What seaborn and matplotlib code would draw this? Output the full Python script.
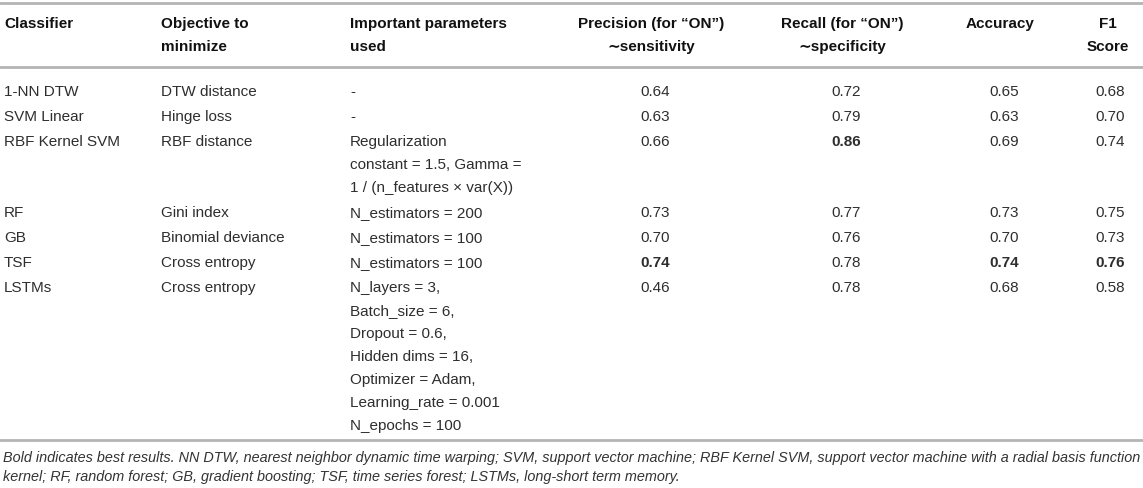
import numpy as np
import seaborn as sns
import matplotlib.pyplot as plt

sns.set_theme(style="white")
plt.rcParams["font.family"] = ["Liberation Sans", "DejaVu Sans"]

# table contents
headers = ["Classifier", "Objective to\nminimize", "Important parameters\nused",
           "Precision (for \u201cON\u201d)\n\u223csensitivity",
           "Recall (for \u201cON\u201d)\n\u223cspecificity", "Accuracy", "F1\nScore"]
classifiers = ["1-NN DTW", "SVM Linear", "RBF Kernel SVM", "RF", "GB", "TSF", "LSTMs"]
objectives = ["DTW distance", "Hinge loss", "RBF distance", "Gini index",
              "Binomial deviance", "Cross entropy", "Cross entropy"]
params = ["-", "-",
          "Regularization\nconstant = 1.5, Gamma =\n1 / (n_features \u00d7 var(X))",
          "N_estimators = 200", "N_estimators = 100", "N_estimators = 100",
          "N_layers = 3,\nBatch_size = 6,\nDropout = 0.6,\nHidden dims = 16,\n"
          "Optimizer = Adam,\nLearning_rate = 0.001\nN_epochs = 100"]
precision = [0.64, 0.63, 0.66, 0.73, 0.70, 0.74, 0.46]
recall = [0.72, 0.79, 0.86, 0.77, 0.76, 0.78, 0.78]
accuracy = [0.65, 0.63, 0.69, 0.73, 0.70, 0.74, 0.68]
f1 = [0.68, 0.70, 0.74, 0.75, 0.73, 0.76, 0.58]
footnote = ("Bold indicates best results. NN DTW, nearest neighbor dynamic time warping; SVM, "
            "support vector machine; RBF Kernel SVM, support vector machine with a radial basis function\n"
            "kernel; RF, random forest; GB, gradient boosting; TSF, time series forest; LSTMs, long-short term memory.")

# layout (pixels)
W, H = 1143, 488
text_cols = [4, 161, 350]
head_cols = [651, 842, 1000, 1108]
num_cols = [655, 846, 1004, 1110]
line_h = 23
row_gap = 2
fs = 11
rule_color = "#b4b4b4"
txt_color = "#2e2e2e"

fig = plt.figure(figsize=(W / 100, H / 100), dpi=100)
ax = fig.add_axes([0, 0, 1, 1])
ax.set_xlim(0, W)
ax.set_ylim(H, 0)
ax.axis("off")

# header
for i, h in enumerate(headers):
    if i < 3:
        x, ha = text_cols[i], "left"
    else:
        x, ha = head_cols[i - 3], "center"
    for k, line in enumerate(h.split("\n")):
        ax.text(x, 24 + k * 23, line, ha=ha, va="center", fontsize=fs,
                fontweight="bold", color="#111111")

ax.axhline(3, color=rule_color, lw=2)
ax.axhline(67, color=rule_color, lw=2)

metrics = [precision, recall, accuracy, f1]
best = [int(np.argmax(m)) for m in metrics]

y = 92
for r in range(len(classifiers)):
    n_lines = params[r].count("\n") + 1
    ax.text(text_cols[0], y, classifiers[r], ha="left", va="center", fontsize=fs, color=txt_color)
    ax.text(text_cols[1], y, objectives[r], ha="left", va="center", fontsize=fs, color=txt_color)
    for k, line in enumerate(params[r].split("\n")):
        ax.text(text_cols[2], y + k * line_h, line, ha="left", va="center", fontsize=fs, color=txt_color)
    for j, m in enumerate(metrics):
        ax.text(num_cols[j], y, f"{m[r]:.2f}", ha="center", va="center", fontsize=fs,
                color=txt_color, fontweight="bold" if best[j] == r else "normal")
    y += n_lines * line_h + row_gap

ax.axhline(440, color=rule_color, lw=2)

for k, line in enumerate(footnote.split("\n")):
    ax.text(3, 458 + k * 19, line, ha="left", va="center", fontsize=10.4,
            style="italic", color="#333333")

fig.savefig("out.png", dpi=100)
